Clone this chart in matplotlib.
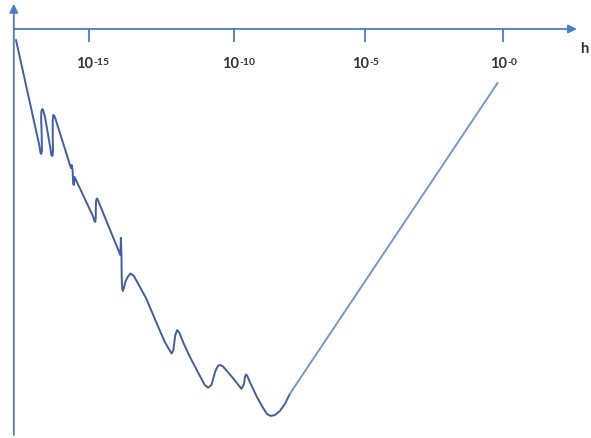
import matplotlib.pyplot as plt

# values: log10(h) and log10(error) (relative, no y scale)
log_h = [-17.63, -16.78, -16.75, -16.72, -16.69, -16.70, -16.72, -16.71, -16.67, -16.64,
         -16.58, -16.38, -16.35, -16.31, -16.29, -16.30, -16.30, -16.28, -16.25, -16.20,
         -15.64, -15.61, -15.58, -15.56, -15.53, -15.51,
         -14.83, -14.79, -14.76, -14.74, -14.74, -14.73, -14.70, -14.66, -14.59,
         -13.85, -13.83, -13.81, -13.80, -13.78, -13.76, -13.72, -13.67, -13.59, -13.48,
         -13.36, -12.92, -12.54, -12.24, -12.05, -11.99, -11.93, -11.86, -11.79, -11.71,
         -11.55, -11.33, -10.97, -10.79, -10.67, -10.55, -10.42, -10.32, -10.24, -10.13,
         -9.76, -9.55, -9.46, -9.37, -9.34, -9.30, -9.25, -9.16, -8.91, -8.68,
         -8.54, -8.41, -8.25, -8.07, -7.89, -7.71]
log_err = [-0.40, -4.24, -4.46, -4.53, -4.42, -3.84, -3.22, -2.97, -2.90, -2.97,
           -3.19, -4.35, -4.57, -4.60, -4.42, -3.84, -3.30, -3.12, -3.13, -3.26,
           -5.04, -4.93, -5.11, -5.62, -5.65, -5.36,
           -6.81, -6.96, -6.99, -6.85, -6.49, -6.23, -6.14, -6.20, -6.38,
           -8.19, -7.57, -8.22, -9.09, -9.42, -9.49, -9.38, -9.17, -8.99, -8.86,
           -8.95, -9.75, -10.65, -11.34, -11.67, -11.76, -11.63, -11.09, -10.91, -11.01,
           -11.41, -11.88, -12.57, -12.90, -13.00, -12.90, -12.43, -12.21, -12.17, -12.23,
           -12.66, -12.93, -13.04, -12.86, -12.61, -12.52, -12.57, -12.79, -13.32, -13.73,
           -13.95, -14.02, -13.99, -13.84, -13.59, -13.22]

# straight part on the right
log_h_trunc = [-7.71, -0.18]
log_err_trunc = [-13.22, -1.95]

tick_pos = [-15, -9.72, -5, 0]
tick_exp = ['-15', '-10', '-5', '-0']

axis_col = '#4a7bd0'
dark_col = '#3e5ea8'
light_col = '#7196dc'
text_col = '#333333'

plt.rcParams['font.family'] = ['Lato', 'DejaVu Sans']

fig = plt.figure(figsize=(5.91, 4.38), dpi=100)
ax = fig.add_axes([0, 0, 1, 1])
ax.set_xlim(-18.21, 3.20)
ax.set_ylim(-14.82, 1.05)
ax.axis('off')

# axes drawn as arrows
arrow = dict(arrowstyle='-|>,head_length=0.5,head_width=0.25', color=axis_col,
             lw=1.3, shrinkA=0, shrinkB=0)
ax.annotate('', xy=(2.69, 0), xytext=(-17.71, 0), arrowprops=arrow)
ax.annotate('', xy=(-17.71, 0.91), xytext=(-17.71, -14.71), arrowprops=arrow)

ax.vlines(tick_pos, -0.48, 0.03, color=axis_col, lw=1.3)
for pos, exp in zip(tick_pos, tick_exp):
    ax.annotate('10', xy=(pos, -1.43), xytext=(3.2, 0), textcoords='offset points',
                ha='right', va='baseline', fontsize=10.5, color=text_col, fontweight='bold')
    ax.annotate(exp, xy=(pos, -1.43), xytext=(3.6, 2.4), textcoords='offset points',
                ha='left', va='baseline', fontsize=7.5, color=text_col, fontweight='bold')
ax.text(2.95, -0.87, 'h', ha='center', va='baseline', fontsize=10.5,
        color=text_col, fontweight='bold')

ax.plot(log_h, log_err, color=dark_col, lw=1.4, solid_joinstyle='round',
        solid_capstyle='round')
ax.plot(log_h_trunc, log_err_trunc, color=light_col, lw=1.4, solid_capstyle='round')

fig.savefig('out.png', dpi=100)
